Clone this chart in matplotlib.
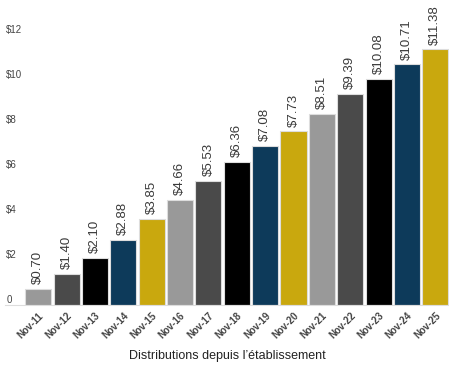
import matplotlib.pyplot as plt

plt.rcParams['font.family'] = ['Liberation Sans', 'DejaVu Sans']

years = ["Nov-11", "Nov-12", "Nov-13", "Nov-14", "Nov-15", "Nov-16", "Nov-17", "Nov-18",
         "Nov-19", "Nov-20", "Nov-21", "Nov-22", "Nov-23", "Nov-24", "Nov-25"]
values = [0.70, 1.40, 2.10, 2.88, 3.85, 4.66, 5.53, 6.36, 7.08, 7.73, 8.51, 9.39, 10.08, 10.71, 11.38]
palette = ["#999999", "#4a4a4a", "#000000", "#0d3a5a", "#c9a80e"]
y_ticks = [0, 2, 4, 6, 8, 10, 12]
y_labels = ["0", "$2", "$4", "$6", "$8", "$10", "$12"]

fig = plt.figure(figsize=(4.49, 3.68), dpi=100)
ax = fig.add_axes([5 / 449, 63 / 368, 444 / 449, 292 / 368])

colors = [palette[i % len(palette)] for i in range(len(values))]
x = list(range(len(values)))
bars = ax.bar(x, values, width=0.92, color=colors, edgecolor="#dddddd", linewidth=0.8)

for bar, val in zip(bars, values):
    ax.annotate(f"${val:.2f}", (bar.get_x() + bar.get_width() / 2, bar.get_height()),
                xytext=(0, 3.5), textcoords="offset points", rotation=90,
                ha="center", va="bottom", fontsize=9.5, color="#3a3a3a")

ax.set_xlim(-1.17, 14.48)
ax.set_ylim(0, 13)
ax.set_xticks(x)
ax.set_xticklabels(years, rotation=45, ha="right", rotation_mode="anchor",
                   fontsize=7, fontweight="bold", color="#444444")
ax.set_yticks(y_ticks)
ax.set_yticklabels(y_labels, fontsize=7, color="#444444", ha="left", va="bottom")
ax.tick_params(axis="y", length=0, pad=-1)
ax.tick_params(axis="x", length=0, pad=4)

for side in ["top", "right", "left"]:
    ax.spines[side].set_visible(False)
ax.spines["bottom"].set_color("#dddddd")

ax.set_xlabel("Distributions depuis l\u2019établissement", fontsize=9, color="#222222", labelpad=7)

fig.savefig("out.png", dpi=100)
